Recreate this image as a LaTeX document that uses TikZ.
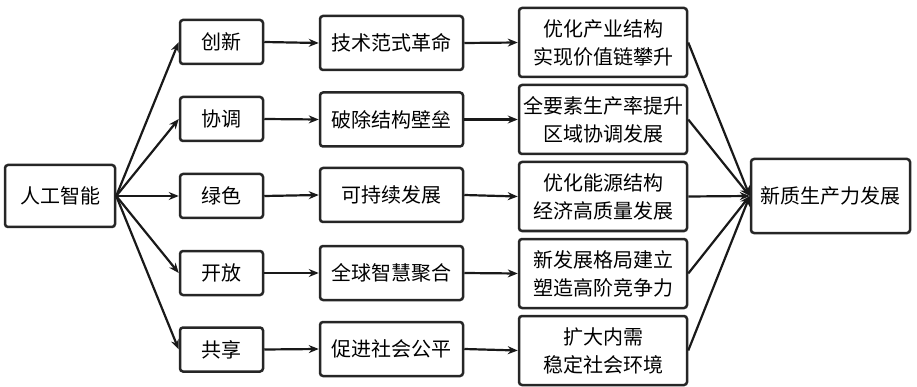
\documentclass[tikz,border=0pt]{standalone}
\usepackage{fontspec}
\setmainfont{Noto Sans CJK SC}
\usetikzlibrary{arrows.meta}
\begin{document}
\begin{tikzpicture}[x=1pt,y=-1pt,
  box/.style={draw=black!85,line width=2.5pt,rounded corners=3pt,fill=white,inner sep=0pt,align=center,
    font=\fontsize{20}{28}\selectfont},
  aibox/.style={box,minimum width=110pt,minimum height=62pt},
  c2/.style={box,minimum width=83pt,minimum height=44pt},
  c3/.style={box,minimum width=143pt,minimum height=54pt},
  c4/.style={box,minimum width=168pt,minimum height=69pt},
  fin/.style={box,minimum width=159pt,minimum height=74pt},
  arr/.style={draw=black!90,line width=2.2pt,-{Stealth[length=10pt,width=8pt]}}]
\useasboundingbox (0,0) rectangle (917,387);
\node[aibox] (ai) at (60,196) {人工智能};
\node[c2] (a1) at (221.5,42) {创新};
\node[c2] (a2) at (221.5,119) {协调};
\node[c2] (a3) at (221.5,196) {绿色};
\node[c2] (a4) at (221.5,273) {开放};
\node[c2] (a5) at (221.5,349.5) {共享};
\node[c3] (b1) at (391.5,43) {技术范式革命};
\node[c3] (b2) at (391.5,119.5) {破除结构壁垒};
\node[c3] (b3) at (391.5,195) {可持续发展};
\node[c3] (b4) at (391.5,273) {全球智慧聚合};
\node[c3] (b5) at (391.5,349) {促进社会公平};
\node[c4] (d1) at (603,42.5) {优化产业结构\\实现价值链攀升};
\node[c4] (d2) at (603,119.5) {全要素生产率提升\\区域协调发展};
\node[c4] (d3) at (603,196.5) {优化能源结构\\经济高质量发展};
\node[c4] (d4) at (603,273.5) {新发展格局建立\\塑造高阶竞争力};
\node[c4] (d5) at (603,350.5) {扩大内需\\稳定社会环境};
\node[fin] (f) at (830.5,196) {新质生产力发展};
\foreach \i in {1,...,5}{
  \draw[arr] (ai.east) -- (a\i.west);
  \draw[arr] (a\i.east) -- (b\i.west);
  \draw[arr] (b\i.east) -- (d\i.west);
  \draw[arr] (d\i.east) -- (f.west);
}
\end{tikzpicture}
\end{document}
